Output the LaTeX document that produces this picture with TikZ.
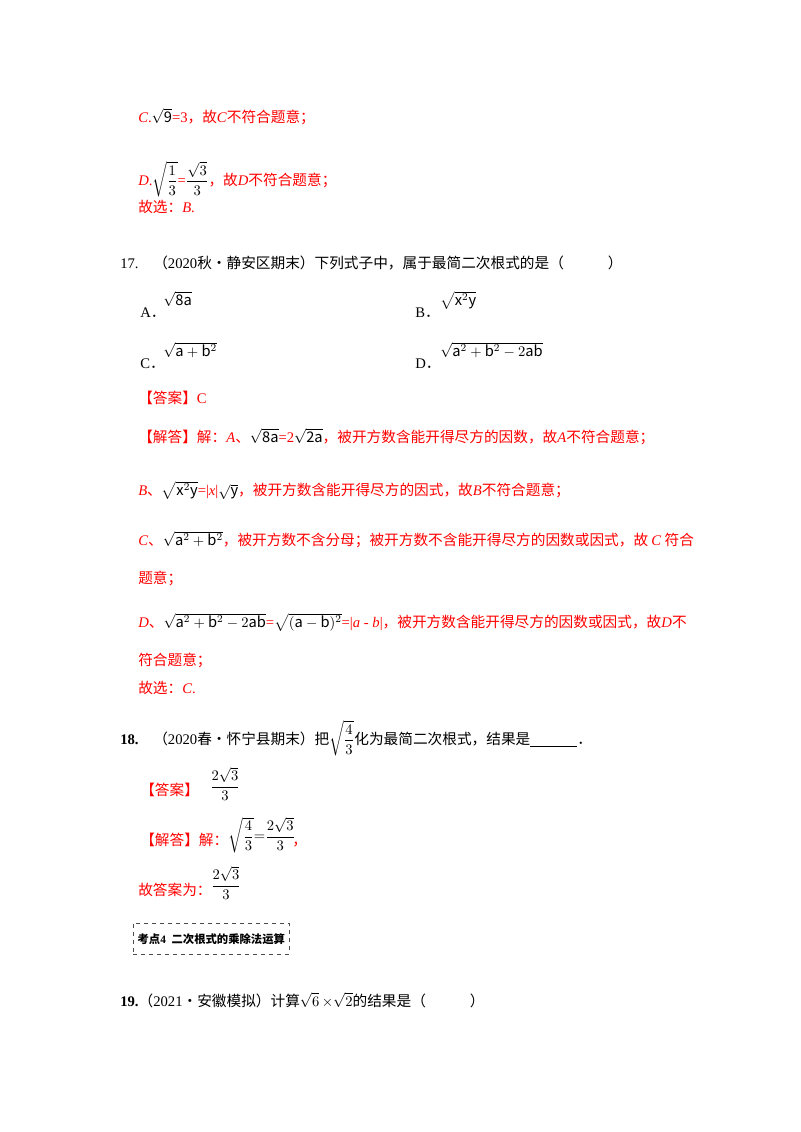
\documentclass[tikz,border=0pt]{standalone}
\usepackage{amsmath}
\usepackage{fontspec}
\setmainfont{Noto Sans CJK SC}
\newfontfamily\lat{Liberation Serif}
\newfontfamily\cjk{Noto Sans CJK SC}
\newcommand\T[1]{{\lat #1}}
\newcommand\K[1]{{\color{black}$#1$}}
\begin{document}
\begin{tikzpicture}[x=0.75pt,y=-0.75pt,
  txt/.style={anchor=base west,inner sep=0pt,font=\fontsize{11pt}{13pt}\selectfont},
  rtxt/.style={txt,text=red},
  box/.style={draw=black!70,dashed,inner sep=0pt}]
\fill[white] (0,0) rectangle (800,1132);
\node[rtxt] (l1) at (138,122) {\T{\textit{C}.}\K{\sqrt{\mathrm{9}}}\T{=3}，故\T{\textit{C}}不符合题意；};
\node[rtxt] (l2) at (138,185) {\T{\textit{D}.}\K{\sqrt{\dfrac{1}{3}}}\T{=}\K{\dfrac{\sqrt{3}}{3}}，故\T{\textit{D}}不符合题意；};
\node[rtxt] (l3) at (138,212) {故选：\T{\textit{B}.}};
\node[txt] (q17) at (120,268) {\T{17.}\quad（\T{2020}秋•静安区期末）下列式子中，属于最简二次根式的是（\qquad\quad）};
\node[txt] (oA) at (140,317) {\T{A}．};
\node[txt] (eA) at (163,305) {$\sqrt{\mathrm{8a}}$};
\node[txt] (oB) at (415,317) {\T{B}．};
\node[txt] (eB) at (440,305) {$\sqrt{\mathrm{x}^2\mathrm{y}}$};
\node[txt] (oC) at (140,368) {\T{C}．};
\node[txt] (eC) at (163,356) {$\sqrt{\mathrm{a}+\mathrm{b}^2}$};
\node[txt] (oD) at (415,368) {\T{D}．};
\node[txt] (eD) at (440,356) {$\sqrt{\mathrm{a}^2+\mathrm{b}^2-2\mathrm{ab}}$};
\node[rtxt] (ans) at (138,403) {【答案】\T{C}};
\node[rtxt] (s1) at (138,442) {【解答】解：\T{\textit{A}}、\K{\sqrt{\mathrm{8a}}}\T{=2}\K{\sqrt{\mathrm{2a}}}，被开方数含能开得尽方的因数，故\T{\textit{A}}不符合题意；};
\node[rtxt] (s2) at (138,495) {\T{\textit{B}}、\K{\sqrt{\mathrm{x}^2\mathrm{y}}}\T{=|\textit{x}|}\K{\sqrt{\mathrm{y}}}，被开方数含能开得尽方的因式，故\T{\textit{B}}不符合题意；};
\node[rtxt] (s3) at (138,545) {\T{\textit{C}}、\K{\sqrt{\mathrm{a}^2+\mathrm{b}^2}}，被开方数不含分母；被开方数不含能开得尽方的因数或因式，故 \T{\textit{C}} 符合};
\node[rtxt] (s4) at (138,583) {题意；};
\node[rtxt] (s5) at (138,627) {\T{\textit{D}}、\K{\sqrt{\mathrm{a}^2+\mathrm{b}^2-2\mathrm{ab}}}\T{=}\K{\sqrt{(\mathrm{a}-\mathrm{b})^2}}\T{=|\textit{a} - \textit{b}|}，被开方数含能开得尽方的因数或因式，故\T{\textit{D}}不};
\node[rtxt] (s6) at (138,665) {符合题意；};
\node[rtxt] (s7) at (138,693) {故选：\T{\textit{C}.}};
\node[txt] (q18) at (120,744) {\T{\textbf{18.}}\quad（\T{2020}春•怀宁县期末）把$\sqrt{\dfrac{4}{3}}$化为最简二次根式，结果是\underline{\hspace{3.2em}}．};
\node[rtxt] (ans18) at (140,795) {【答案】};
\node[txt,anchor=center] (f1) at (225,784) {$\dfrac{2\sqrt{3}}{3}$};
\node[rtxt] (sol18) at (140,845) {【解答】解：};
\node[txt,anchor=center] (f2) at (262,835) {$\sqrt{\dfrac{4}{3}}{=}\dfrac{2\sqrt{3}}{3}$};
\node[rtxt] (comma) at (292,845) {，};
\node[rtxt] (fin18) at (138,895) {故答案为：};
\node[txt,anchor=center] (f3) at (226,883) {$\dfrac{2\sqrt{3}}{3}$};
\node[box,minimum width=156*0.75pt,minimum height=31*0.75pt,anchor=north west,font=\fontsize{8.5pt}{10pt}\selectfont\bfseries] (kd) at (133,923) {考点\T{4}\enspace 二次根式的乘除法运算};
\node[txt] (q19) at (120,1006) {\T{\textbf{19.}}（\T{2021}•安徽模拟）计算$\sqrt{6}\,{\times}\sqrt{2}$的结果是（\qquad\quad）};
\end{tikzpicture}
\end{document}
